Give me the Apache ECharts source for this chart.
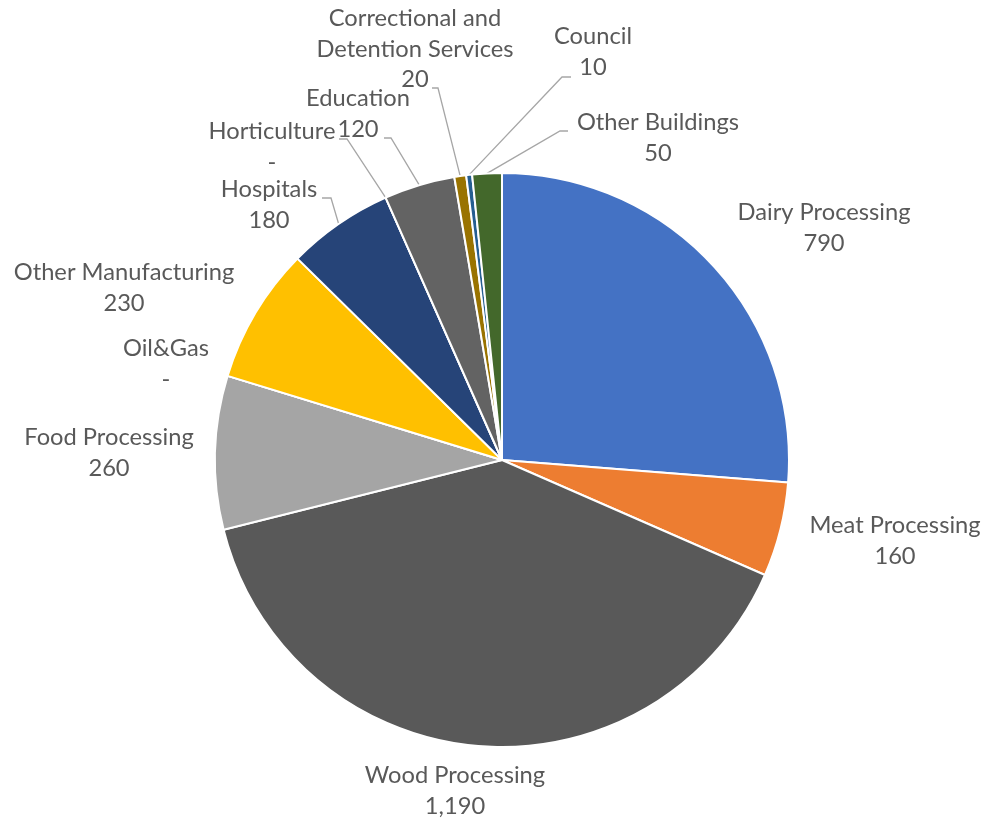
<!DOCTYPE html>
<html>
<head>
<meta charset="utf-8">
<script src="https://cdn.jsdelivr.net/npm/echarts@6/dist/echarts.min.js"></script>
<style>html,body{margin:0;padding:0;background:#fff}#c{width:987px;height:825px}</style>
</head>
<body>
<div id="c"></div>
<script>
var categories = ['Dairy Processing','Meat Processing','Wood Processing','Food Processing','Oil&Gas','Other Manufacturing','Hospitals','Horticulture','Education','Correctional and Detention Services','Council','Other Buildings'];
var values = [790,160,1190,260,0,230,180,0,120,20,10,50];
var colors = ['#4472C4','#ED7D31','#595959','#A5A5A5','#5B9BD5','#FFC000','#264478','#70AD47','#636363','#997300','#255E91','#43682B'];

// label layout (centre of text block) and optional leader-line elbow points
var labelLayoutSpec = [
  {x:824, y:228},
  {x:895, y:541},
  {x:455, y:791},
  {x:109, y:453},
  {x:166, y:364},
  {x:124, y:288},
  {x:269, y:205, line:[[331,198],[322,198]]},
  {x:272, y:147, line:[[347,139],[339,139]]},
  {x:358, y:114, line:[[391,138],[384,138]]},
  {x:415, y:49,  line:[[438,88],[432,88]]},
  {x:593, y:52,  line:[[562,77],[571,77]]},
  {x:658, y:138, line:[[560,131],[568,131]]}
];

function fmt(v){ return v === 0 ? '-' : v.toLocaleString('en-US'); }

var data = categories.map(function(n,i){
  var d = { name:n, value:values[i], itemStyle:{color:colors[i]} };
  d.labelLine = { show: !!labelLayoutSpec[i].line };
  return d;
});

var chart = echarts.init(document.getElementById('c'), null, {renderer:'canvas'});
chart.setOption({
  backgroundColor:'#ffffff',
  animation:false,
  series:[{
    type:'pie',
    center:[502,460],
    radius:[0,287],
    startAngle:90,
    clockwise:true,
    avoidLabelOverlap:false,
    data:data,
    itemStyle:{borderColor:'#ffffff', borderWidth:2},
    label:{
      show:true,
      position:'outside',
      fontFamily:'Lato, "Open Sans", sans-serif',
      fontSize:23.7,
      lineHeight:30.5,
      color:'#595959',
      align:'center',
      formatter:function(p){
        var n = p.name === 'Correctional and Detention Services' ? 'Correctional and\nDetention Services' : p.name;
        return n + '\n' + fmt(p.value);
      }
    },
    labelLine:{ length:10, length2:10, lineStyle:{color:'#A6A6A6', width:1.3} },
    labelLayout:function(p){
      var s = labelLayoutSpec[p.dataIndex];
      var out = { x:s.x, y:s.y, align:'center', verticalAlign:'middle' };
      if (s.line && p.labelLinePoints) {
        out.labelLinePoints = [p.labelLinePoints[0], s.line[0], s.line[1]];
      }
      return out;
    }
  }]
});
</script>
</body>
</html>
